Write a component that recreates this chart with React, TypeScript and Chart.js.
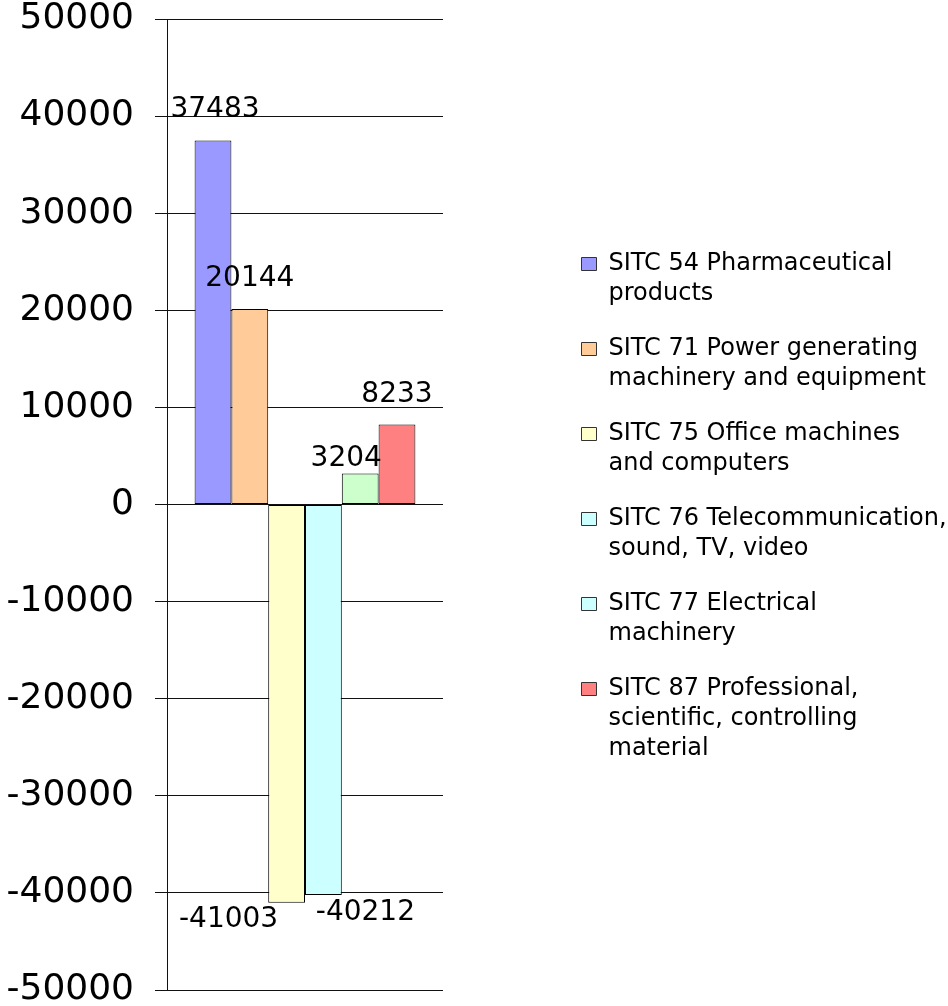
import React, { useEffect, useRef } from "react";
import { Chart, registerables } from "chart.js";

Chart.register(...registerables);

const FONT = "DejaVu Sans";

const categories = [""];
const seriesNames = [
  "SITC 54 Pharmaceutical products",
  "SITC 71 Power generating machinery and equipment",
  "SITC 75 Office machines and computers",
  "SITC 76 Telecommunication, sound, TV, video",
  "SITC 77 Electrical machinery",
  "SITC 87 Professional, scientific, controlling material",
];
const seriesValues = [37483, 20144, -41003, -40212, 3204, 8233];
const barColors = ["#9999FF", "#FFCC99", "#FFFFCC", "#CCFFFF", "#CCFFCC", "#FF8080"];
const legendColors = ["#9999FF", "#FFCC99", "#FFFFCC", "#CCFFFF", "#CCFFFF", "#FF8080"];
const legendLines = [
  ["SITC 54 Pharmaceutical", "products"],
  ["SITC 71 Power generating", "machinery and equipment"],
  ["SITC 75 Office machines", "and computers"],
  ["SITC 76 Telecommunication,", "sound, TV, video"],
  ["SITC 77 Electrical", "machinery"],
  ["SITC 87 Professional,", "scientific, controlling", "material"],
];
const yTickValues = [-50000, -40000, -30000, -20000, -10000, 0, 10000, 20000, 30000, 40000, 50000];
// label nudges (dx, dy) in pixels, as placed in the original
const labelNudges = [
  [2, -1],
  [0, 0],
  [-58, 0],
  [42, 1],
  [-14, 16],
  [0, 0],
];

const valueLabelsPlugin = {
  id: "valueLabels",
  afterDatasetsDraw(chart: any) {
    const ctx = chart.ctx;
    ctx.save();
    ctx.font = `28px "${FONT}"`;
    ctx.fillStyle = "#000";
    ctx.textAlign = "center";
    ctx.textBaseline = "alphabetic";
    chart.data.datasets.forEach((ds: any, i: number) => {
      const el = chart.getDatasetMeta(i).data[0];
      if (!el) return;
      const v = ds.data[0];
      const [dx, dy] = labelNudges[i];
      const y = v >= 0 ? el.y - 23 + dy : el.y + 24 + dy;
      ctx.fillText(String(v), el.x + dx, y);
    });
    ctx.restore();
  },
};

const legendPlacePlugin = {
  id: "legendPlace",
  afterLayout(chart: any) {
    const l = chart.legend;
    if (!l) return;
    l.left = 556.5;
    l.right = 948;
    l.top = 227;
    l.bottom = 1006;
    l.width = l.right - l.left;
    l.height = l.bottom - l.top;
  },
};

export default function App() {
  const ref = useRef<HTMLCanvasElement | null>(null);

  useEffect(() => {
    if (!ref.current) return;
    Chart.defaults.font.family = FONT;
    const chart = new Chart(ref.current, {
      type: "bar",
      data: {
        labels: categories,
        datasets: seriesNames.map((name, i) => ({
          label: name,
          data: [seriesValues[i]],
          backgroundColor: barColors[i],
          borderColor: "#000",
          borderWidth: 1,
          borderSkipped: false,
          categoryPercentage: 0.8,
          barPercentage: 1.0,
        })),
      },
      options: {
        responsive: false,
        animation: false,
        layout: { padding: { top: 19, bottom: 16, left: 0, right: 505 } },
        scales: {
          x: { display: false },
          y: {
            min: -50000,
            max: 50000,
            afterBuildTicks: (s: any) => {
              s.ticks = yTickValues.map((v) => ({ value: v }));
            },
            afterFit: (s: any) => {
              s.width = 167;
              s.paddingTop = 0;
              s.paddingBottom = 0;
            },
            ticks: {
              color: "#000",
              padding: 21,
              font: { family: FONT, size: 36 },
              callback: (v: any) => String(v),
            },
            grid: { color: "#111", tickLength: 12, lineWidth: 1 },
            border: { color: "#111", width: 1 },
          },
        },
        plugins: {
          tooltip: { enabled: false },
          title: { display: false },
          legend: {
            display: true,
            position: "chartArea",
            align: "start",
            labels: {
              color: "#000",
              font: { family: FONT, size: 24, lineHeight: "30px" },
              boxWidth: 15,
              boxHeight: 13,
              padding: 25,
              generateLabels: () =>
                legendLines.map((lines, i) => ({
                  text: lines,
                  fillStyle: legendColors[i],
                  strokeStyle: "#333",
                  lineWidth: 1,
                  hidden: false,
                  datasetIndex: i,
                  fontColor: "#000",
                })),
            },
          },
        },
      } as any,
      plugins: [valueLabelsPlugin, legendPlacePlugin],
    });
    return () => chart.destroy();
  }, []);

  return (
    <div style={{ position: "absolute", left: 0, top: 0, width: 948, height: 1006 }}>
      <canvas ref={ref} width={948} height={1006} style={{ display: "block" }} />
    </div>
  );
}
